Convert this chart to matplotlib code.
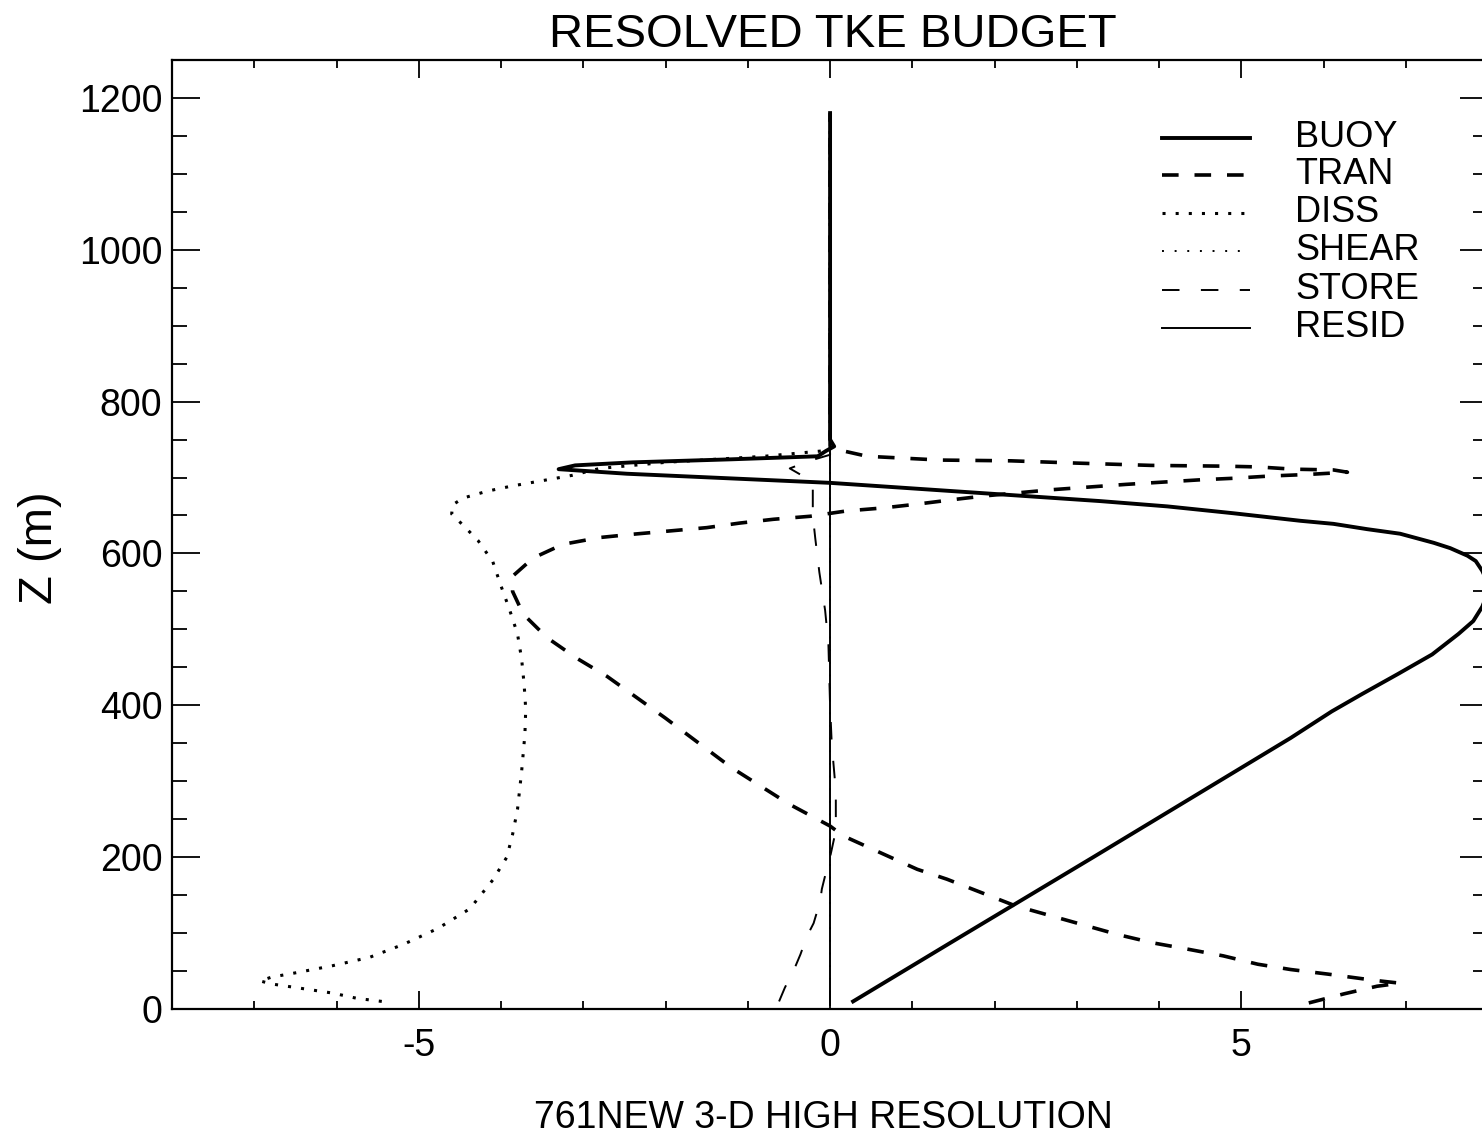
import matplotlib
matplotlib.use('Agg')
import matplotlib.pyplot as plt
from matplotlib.ticker import MultipleLocator

plt.rcParams['font.family'] = ['Liberation Sans', 'DejaVu Sans']
plt.rcParams['axes.unicode_minus'] = False

# BUOY (buoyancy production)
buoy_z = [10, 87, 200, 357, 392, 415, 441, 467, 494, 511, 530, 541, 555, 565, 577, 590, 597, 607,
          614, 626, 632, 639, 643, 653, 662, 669, 681, 693, 705, 711, 716, 720, 724, 728, 735, 741,
          750, 1180]
buoy_x = [0.28, 1.46, 3.2, 5.6, 6.1, 6.47, 6.9, 7.32, 7.64, 7.82, 7.93, 7.97, 7.99, 7.98, 7.93,
          7.85, 7.75, 7.54, 7.34, 6.93, 6.53, 6.12, 5.72, 4.9, 4.1, 3.28, 1.64, 0.0, -2.47, -3.3,
          -3.1, -2.4, -1.2, -0.15, -0.05, 0.05, 0.0, 0.0]

# TRAN (transport)
tran_z = [8, 20, 30, 34, 38, 46, 52, 59, 70, 79, 87, 98, 136, 171, 184, 204, 228, 241, 270, 318,
          383, 438, 462, 489, 520, 550, 570, 594, 612, 621, 625, 634, 640, 645, 649, 656, 660, 665,
          672, 676, 684, 691, 694, 697, 699, 702, 704, 707, 710, 711, 714, 715, 716, 719, 722, 723,
          728, 737, 742, 1180]
tran_x = [5.82, 6.25, 6.65, 6.93, 6.6, 6.05, 5.6, 5.2, 4.78, 4.34, 3.93, 3.5, 2.25, 1.42, 1.06, 0.65,
          0.16, 0.0, -0.5, -1.2, -2.0, -2.71, -3.08, -3.44, -3.73, -3.86, -3.86, -3.61, -3.25, -2.8,
          -2.43, -1.5, -1.1, -0.69, -0.24, 0.2, 0.65, 1.06, 1.58, 1.9, 2.7, 3.6, 4.05, 4.5, 4.9, 5.35,
          5.8, 6.29, 6.12, 5.63, 5.2, 4.78, 3.9, 3.0, 2.2, 1.34, 0.45, 0.08, 0.0, 0.0]

# DISS (dissipation)
diss_z = [10, 14, 21, 28, 33, 37, 42, 48, 57, 68, 85, 106, 132, 170, 200, 230, 263, 313, 362, 395,
          428, 461, 494, 527, 557, 589, 617, 637, 652, 664, 673, 682, 689, 697, 703, 712, 720, 728,
          736, 1180]
diss_x = [-5.45, -5.75, -6.05, -6.48, -6.79, -6.93, -6.79, -6.48, -6.05, -5.6, -5.19, -4.77, -4.38,
          -4.1, -3.93, -3.86, -3.8, -3.75, -3.71, -3.7, -3.72, -3.75, -3.8, -3.9, -4.0, -4.1, -4.28,
          -4.46, -4.6, -4.59, -4.46, -4.17, -3.86, -3.44, -3.13, -2.8, -2.0, -0.8, 0.0, 0.0]

# SHEAR (shear production)
shear_z = [5, 1180]
shear_x = [0.0, 0.0]

# STORE (storage)
store_z = [10, 28, 54, 72, 96, 113, 142, 158, 180, 200, 235, 287, 350, 400, 480, 525, 575, 620,
           650, 690, 702, 712, 722, 730, 1180]
store_x = [-0.62, -0.55, -0.43, -0.36, -0.28, -0.2, -0.12, -0.1, -0.05, 0.0, 0.07, 0.07, 0.02, 0.0,
           -0.02, -0.06, -0.13, -0.18, -0.21, -0.21, -0.33, -0.49, -0.25, 0.0, 0.0]

# RESID (residual)
resid_z = [5, 1180]
resid_x = [0.0, 0.0]

labels = ['BUOY', 'TRAN', 'DISS', 'SHEAR', 'STORE', 'RESID']

styles = [
    dict(lw=2.8, ls='-'),
    dict(lw=2.6, ls=(0, (4.6, 4.4))),
    dict(lw=2.2, ls=(0, (1, 3.3))),
    dict(lw=1.4, ls=(0, (1, 5.5))),
    dict(lw=1.4, ls=(0, (9, 11))),
    dict(lw=1.4, ls='-'),
]

fig = plt.figure(figsize=(14.82, 11.44), dpi=100)
ax = fig.add_axes([0.1161, 0.118, 0.888, 0.8296])

series = [(buoy_x, buoy_z), (tran_x, tran_z), (diss_x, diss_z),
          (shear_x, shear_z), (store_x, store_z), (resid_x, resid_z)]
for (xs, zs), st in zip(series, styles):
    ax.plot(xs, zs, color='black', **st)

ax.set_xlim(-8, 8)
ax.set_ylim(0, 1250)
ax.xaxis.set_major_locator(MultipleLocator(5))
ax.xaxis.set_minor_locator(MultipleLocator(1))
ax.yaxis.set_major_locator(MultipleLocator(200))
ax.yaxis.set_minor_locator(MultipleLocator(50))
ax.tick_params(axis='both', which='both', direction='in', top=True, right=True, color='black')
ax.tick_params(axis='x', which='major', length=13, width=1.3, pad=14, labelsize=27)
ax.tick_params(axis='x', which='minor', length=6, width=1.3)
ax.tick_params(axis='y', which='major', length=20, width=1.3, pad=7, labelsize=27)
ax.tick_params(axis='y', which='minor', length=11, width=1.3)
for s in ax.spines.values():
    s.set_linewidth(1.6)

ax.set_ylabel('Z (m)', fontsize=34, va='center')
ax.yaxis.set_label_coords(-0.1003, 0.486)

fig.text(0.5617, 0.969, 'RESOLVED TKE BUDGET', ha='center', va='center', fontsize=34)
fig.text(0.5557, 0.0227, '761NEW 3-D HIGH RESOLUTION', ha='center', va='center', fontsize=27)

# legend, drawn by hand so the rows can sit tight
row_y = [0.918, 0.879, 0.839, 0.799, 0.758, 0.718]
for lab, st, yy in zip(labels, styles, row_y):
    ax.plot([0.7523, 0.8191], [yy, yy], color='black', transform=ax.transAxes, **st)
    ax.text(0.8534, yy, lab, transform=ax.transAxes, va='center', ha='left', fontsize=26)

fig.savefig('out.png', dpi=100)
